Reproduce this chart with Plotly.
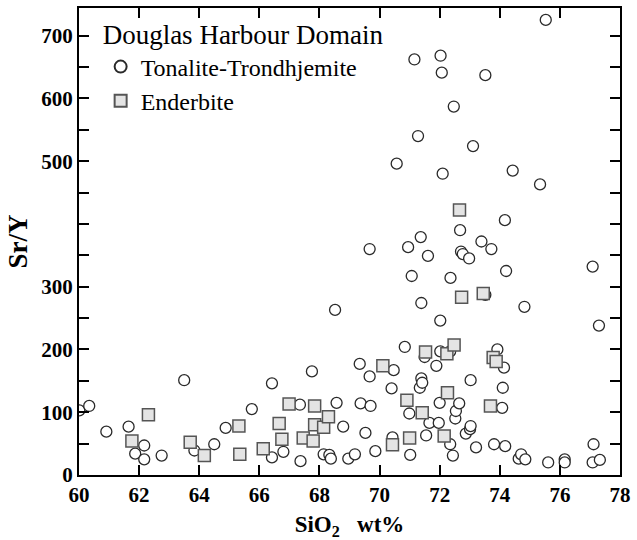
import plotly.graph_objects as go

# Tonalite-Trondhjemite (circles)
tt_sio2 = [60.01, 60.34, 60.91, 61.65, 61.87, 62.17, 62.17, 62.75, 63.50, 63.84,
           64.50, 64.88, 65.75, 66.42, 66.42, 66.80, 67.35, 67.37, 67.75, 68.14,
           68.33, 68.38, 68.52, 68.57, 68.79, 68.96, 69.18, 69.34, 69.37, 69.53,
           69.67, 69.67, 69.70, 69.86, 70.40, 70.43, 70.47, 70.57, 70.84, 70.95,
           70.99, 71.02, 71.07, 71.16, 71.28, 71.34, 71.37, 71.39, 71.39, 71.42,
           71.50, 71.55, 71.61, 71.66, 71.89, 71.97, 72.00, 72.02, 72.02, 72.03,
           72.07, 72.10, 72.35, 72.35, 72.36, 72.44, 72.47, 72.52, 72.54, 72.65,
           72.68, 72.71, 72.77, 72.87, 72.98, 73.01, 73.03, 73.03, 73.11, 73.21,
           73.39, 73.52, 73.52, 73.72, 73.81, 73.92, 74.08, 74.10, 74.14, 74.17,
           74.18, 74.21, 74.43, 74.63, 74.71, 74.82, 74.85, 75.34, 75.53, 75.61,
           76.16, 76.16, 77.09, 77.09, 77.12, 77.30, 77.33]
tt_sry = [103, 110, 69, 77, 34, 47, 25, 31, 151, 39,
          49, 75, 105, 146, 28, 37, 112, 22, 165, 33,
          32, 26, 263, 115, 77, 26, 33, 177, 114, 67,
          157, 360, 110, 38, 138, 60, 167, 496, 204, 363,
          98, 32, 317, 662, 540, 139, 379, 154, 274, 147,
          188, 63, 349, 83, 174, 83, 115, 246, 197, 668,
          641, 480, 197, 49, 314, 31, 587, 90, 102, 114,
          390, 356, 352, 66, 345, 73, 78, 151, 524, 44,
          372, 637, 287, 360, 49, 200, 107, 139, 171, 406,
          46, 325, 485, 26, 33, 268, 25, 463, 725, 20,
          25, 20, 332, 20, 49, 238, 24]

# Enderbite (squares)
en_sio2 = [61.76, 62.31, 63.70, 64.17, 65.32, 65.35, 66.13, 66.66, 66.75, 66.99,
           67.46, 67.79, 67.84, 67.84, 68.14, 68.30, 70.11, 70.43, 70.91, 71.00,
           71.42, 71.53, 72.15, 72.24, 72.26, 72.48, 72.66, 72.73, 73.45, 73.69,
           73.78, 73.88]
en_sry = [54, 96, 52, 31, 78, 33, 42, 82, 57, 113,
          59, 54, 110, 80, 76, 93, 174, 48, 119, 59,
          99, 196, 62, 193, 131, 207, 422, 283, 289, 110,
          187, 181]

x_ticks = [60, 62, 64, 66, 68, 70, 72, 74, 76, 78]
y_ticks = [0, 100, 200, 300, 500, 600, 700]
y_minor_ticks = [50, 150, 250, 350, 400, 450, 550, 650]

FONT = "Times New Roman, Liberation Serif, DejaVu Serif, serif"

fig = go.Figure()
fig.add_trace(go.Scatter(
    x=tt_sio2, y=tt_sry, mode="markers", name="Tonalite-Trondhjemite",
    marker=dict(symbol="circle", size=11, color="white",
                line=dict(color="#2a2a2a", width=1.3)),
))
fig.add_trace(go.Scatter(
    x=en_sio2, y=en_sry, mode="markers", name="Enderbite",
    marker=dict(symbol="square", size=12, color="#e4e4e4",
                line=dict(color="#555555", width=1.5)),
))

axis_common = dict(
    showline=True, linecolor="black", linewidth=2, mirror="ticks",
    ticks="inside", ticklen=10, tickwidth=2, tickcolor="black",
    showgrid=False, zeroline=False, ticklabeloverflow="allow",
    tickfont=dict(family=FONT, size=21, color="black", weight="bold"),
)

fig.update_xaxes(
    range=[60, 78], tickmode="array", tickvals=x_ticks,
    ticktext=[str(v) for v in x_ticks],
    title=dict(text="SiO<sub>2</sub>&nbsp;&nbsp; wt%", standoff=10,
               font=dict(family=FONT, size=23, color="black", weight="bold")),
    **axis_common,
)
fig.update_yaxes(
    range=[0, 744], tickmode="array", tickvals=y_ticks,
    ticktext=[str(v) for v in y_ticks],
    minor=dict(tickmode="array", tickvals=y_minor_ticks, ticks="inside",
               ticklen=10, tickwidth=2, tickcolor="black", showgrid=False),
    title=dict(text="Sr/Y", standoff=6,
               font=dict(family=FONT, size=27, color="black", weight="bold")),
    **axis_common,
)

fig.update_layout(
    width=637, height=540,
    margin=dict(l=79, r=10, t=6, b=65),
    plot_bgcolor="white", paper_bgcolor="white",
    showlegend=True,
    legend=dict(
        x=0.04, y=0.997, xanchor="left", yanchor="top",
        bgcolor="rgba(0,0,0,0)", borderwidth=0,
        title=dict(text="Douglas Harbour Domain",
                   font=dict(family=FONT, size=27, color="black")),
        font=dict(family=FONT, size=24, color="black"),
        itemsizing="constant", tracegroupgap=0,
    ),
)

fig.write_html("out.html")
